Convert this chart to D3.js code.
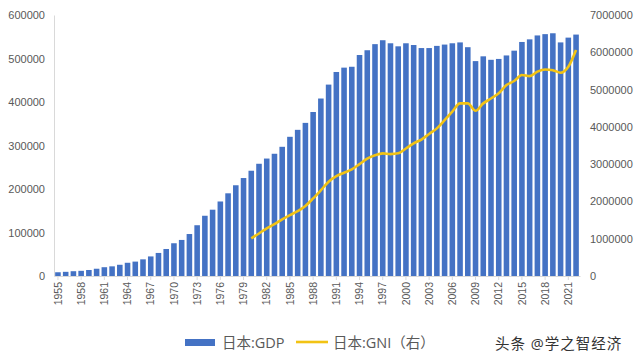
<!DOCTYPE html>
<html>
<head>
<meta charset="utf-8">
<script src="https://cdn.jsdelivr.net/npm/d3@7/dist/d3.min.js"></script>
<style>
  body { margin: 0; background: #fff; }
  svg { display: block; font-family: "Open Sans", "Noto Sans CJK SC", sans-serif; }
</style>
</head>
<body>
<div id="chart"></div>
<script>
// years 1955..2022
const years = d3.range(1955, 2023);

// 日本:GDP (left axis)
const gdp = [
  8600, 9600, 11000, 11900, 13800, 16700, 20200, 22200, 25800, 30400,
  33100, 38300, 45000, 53000, 62100, 75300, 82900, 96500, 116700, 138500,
  152400, 171300, 190100, 208600, 225200, 242000, 258000, 270000, 281000, 297000,
  320000, 336000, 352000, 377000, 408000, 440000, 469000, 479000, 481000, 508000,
  519000, 533000, 542000, 535000, 528000, 535000, 531000, 524000, 524000, 529000,
  532000, 535000, 537000, 526000, 494000, 505000, 497000, 499000, 507000, 518000,
  538000, 544000, 553000, 556000, 558000, 537000, 548000, 555000
];

// 日本:GNI (right axis), from 1980
const gniYears = d3.range(1980, 2023);
const gni = [
  1010000, 1140000, 1280000, 1390000, 1520000, 1635000, 1740000, 1880000, 2080000, 2300000,
  2530000, 2680000, 2770000, 2860000, 3000000, 3150000, 3240000, 3290000, 3270000, 3290000,
  3420000, 3560000, 3660000, 3810000, 3960000, 4180000, 4410000, 4630000, 4630000, 4430000,
  4630000, 4760000, 4900000, 5120000, 5230000, 5390000, 5360000, 5480000, 5540000, 5520000,
  5450000, 5610000, 6060000
];

const leftTicks = [0, 100000, 200000, 300000, 400000, 500000, 600000];
const rightTicks = [0, 1000000, 2000000, 3000000, 4000000, 5000000, 6000000, 7000000];

const W = 640, H = 363;
const margin = { top: 15, right: 60, bottom: 87, left: 54 };
const width = W - margin.left - margin.right;
const height = H - margin.top - margin.bottom;

const svg = d3.select("#chart").append("svg")
  .attr("width", W)
  .attr("height", H);

const g = svg.append("g")
  .attr("transform", "translate(" + margin.left + "," + margin.top + ")");

const x = d3.scaleBand().domain(years).range([0, width]).paddingInner(0.28).paddingOuter(0.15);
const yL = d3.scaleLinear().domain([0, 600000]).range([height, 0]);
const yR = d3.scaleLinear().domain([0, 7000000]).range([height, 0]);

// bars
g.selectAll(".bar")
  .data(years)
  .enter().append("rect")
  .attr("class", "bar")
  .attr("x", d => x(d))
  .attr("width", x.bandwidth())
  .attr("y", (d, i) => yL(gdp[i]))
  .attr("height", (d, i) => height - yL(gdp[i]))
  .attr("fill", "#4472C4");

// GNI line
const line = d3.line()
  .x((d, i) => x(gniYears[i]) + x.bandwidth() / 2)
  .y(d => yR(d))
  .curve(d3.curveMonotoneX);

g.append("path")
  .datum(gni)
  .attr("fill", "none")
  .attr("stroke", "#F2C314")
  .attr("stroke-width", 2.6)
  .attr("d", line);

// left axis
const axL = g.append("g")
  .call(d3.axisLeft(yL).tickValues(leftTicks).tickSize(0).tickPadding(9).tickFormat(d3.format("d")));
axL.select(".domain").attr("stroke", "#d9d9d9");
axL.selectAll("text").attr("fill", "#595959").style("font-size", "11px");

// right axis
const axR = g.append("g")
  .attr("transform", "translate(" + width + ",0)")
  .call(d3.axisRight(yR).tickValues(rightTicks).tickSize(0).tickPadding(10).tickFormat(d3.format("d")));
axR.select(".domain").remove();
axR.selectAll("text").attr("fill", "#595959").style("font-size", "11px");

// x axis
const axX = g.append("g")
  .attr("transform", "translate(0," + height + ")")
  .call(d3.axisBottom(x).tickValues(years.filter(d => (d - 1955) % 3 === 0)).tickSize(4).tickSizeOuter(0));
axX.select(".domain").attr("stroke", "#d9d9d9");
axX.selectAll(".tick line").attr("stroke", "#d9d9d9");
axX.selectAll("text")
  .attr("fill", "#595959")
  .style("font-size", "10.5px")
  .attr("transform", "rotate(-90)")
  .attr("text-anchor", "end")
  .attr("x", -6)
  .attr("y", 0)
  .attr("dy", "0.35em");

// legend
const lg = svg.append("g").attr("transform", "translate(185,343)");
lg.append("rect").attr("x", 0).attr("y", -4).attr("width", 30).attr("height", 7).attr("fill", "#4472C4");
lg.append("text").attr("x", 37).attr("y", 0).attr("dy", "0.35em")
  .attr("fill", "#595959").style("font-size", "14.5px").text("日本:GDP");
lg.append("line").attr("x1", 111).attr("x2", 143).attr("y1", -1).attr("y2", -1)
  .attr("stroke", "#F2C314").attr("stroke-width", 2.6);
lg.append("text").attr("x", 148).attr("y", 0).attr("dy", "0.35em")
  .attr("fill", "#595959").style("font-size", "14.5px").text("日本:GNI（右）");

// watermark
svg.append("text").attr("x", 495).attr("y", 344).attr("dy", "0.35em")
  .attr("fill", "#333").style("letter-spacing", "1px")
  .style("font-size", "14.5px").text("头条 @学之智经济");
</script>
</body>
</html>
